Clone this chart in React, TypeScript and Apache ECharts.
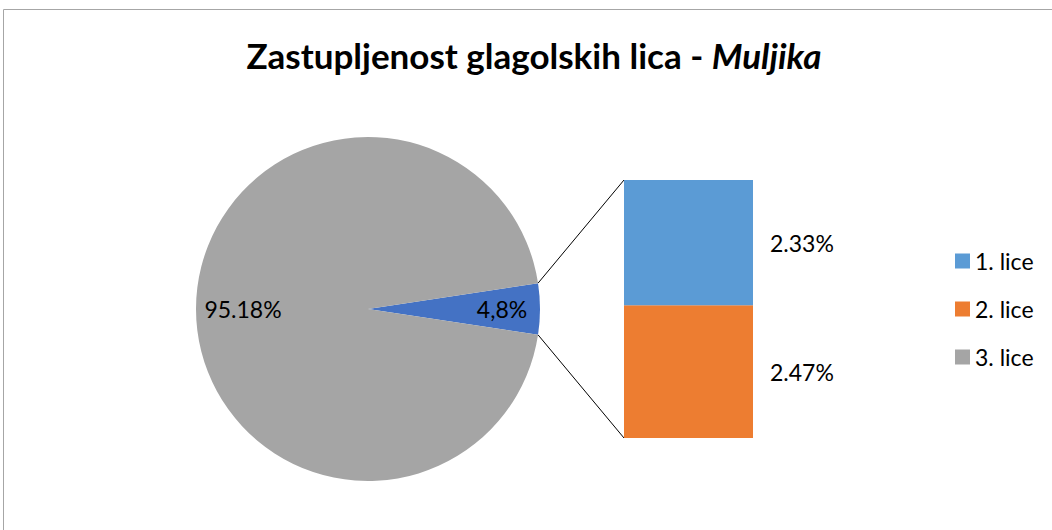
import React, { useEffect, useRef } from "react";
import * as echarts from "echarts";

const TITLE_MAIN = "Zastupljenost glagolskih lica - ";
const TITLE_ITALIC = "Muljika";
const legendNames = ["1. lice", "2. lice", "3. lice"];
const pieNames = ["1. + 2. lice", "3. lice"];
const pieValues = [4.8, 95.18];
const pieLabels = ["4,8%", "95.18%"];
const barNames = ["1. lice", "2. lice"];
const barValues = [2.33, 2.47];
const barLabels = ["2.33%", "2.47%"];

const FONT = "Lato, 'Open Sans', sans-serif";
const CX = 368;
const CY = 309;
const R = 172;
const BAR_L = 624;
const BAR_T = 180;
const BAR_W = 129;
const BAR_H = 258;
const LABEL_SIZE = 23;

export default function App() {
  const ref = useRef<HTMLDivElement>(null);
  useEffect(() => {
    if (!ref.current) return;
    const chart = echarts.init(ref.current, undefined, { renderer: "svg" });
    const total = pieValues[0] + pieValues[1];
    const half = (pieValues[0] / total) * 180;
    const rad = (half * Math.PI) / 180;
    const pTop = [CX + R * Math.cos(rad), CY - R * Math.sin(rad)];
    const pBot = [CX + R * Math.cos(rad), CY + R * Math.sin(rad)];
    const barSum = barValues[0] + barValues[1];
    const labelPads = [[0, 0, 0, 6], [0, 0, 0, 12]];

    const pieData = pieNames.map((n, i) => ({
      name: n,
      value: pieValues[i],
      itemStyle: { color: i === 0 ? "#4472C4" : "#A5A5A5" },
    }));
    const labelData = pieNames.map((n, i) => ({
      name: n,
      value: pieValues[i],
      label: { formatter: pieLabels[i], padding: labelPads[i] },
    }));
    const barColors = ["#5B9BD5", "#ED7D31"];
    const barSeries = [1, 0].map((i) => ({
      type: "bar",
      name: barNames[i],
      stack: "s",
      data: [barValues[i]],
      barWidth: "100%",
      itemStyle: { color: barColors[i] },
      label: {
        show: true,
        position: "right",
        distance: 17,
        formatter: barLabels[i],
        fontSize: LABEL_SIZE,
        fontFamily: FONT,
        color: "#000",
      },
      silent: true,
    }));

    chart.setOption({
      animation: false,
      textStyle: { fontFamily: FONT },
      title: {
        text: TITLE_MAIN + "{i|" + TITLE_ITALIC + "}",
        left: 529,
        textAlign: "center",
        top: 32,
        textStyle: {
          fontFamily: FONT,
          fontSize: 35,
          fontWeight: "bold",
          color: "#000",
          rich: {
            i: {
              fontFamily: FONT,
              fontSize: 35,
              fontWeight: "bold",
              fontStyle: "italic",
              color: "#000",
            },
          },
        },
      },
      legend: {
        data: legendNames,
        orient: "vertical",
        left: 955,
        top: 249.5,
        itemGap: 25,
        itemWidth: 15,
        itemHeight: 15,
        icon: "rect",
        padding: 0,
        selectedMode: false,
        textStyle: { fontSize: LABEL_SIZE, fontFamily: FONT, color: "#000" },
      },
      grid: { left: BAR_L, top: BAR_T, width: BAR_W, height: BAR_H },
      xAxis: { type: "category", data: ["bar"], show: false },
      yAxis: { type: "value", min: 0, max: barSum, show: false },
      graphic: [
        {
          type: "rect",
          shape: { x: 3.5, y: 9.5, width: 1200, height: 700 },
          style: { fill: "none", stroke: "#A6A6A6", lineWidth: 1 },
          silent: true,
          z: -10,
        },
        {
          type: "line",
          shape: { x1: pTop[0], y1: pTop[1], x2: BAR_L, y2: BAR_T },
          style: { stroke: "#000", lineWidth: 1 },
          silent: true,
        },
        {
          type: "line",
          shape: { x1: pBot[0], y1: pBot[1], x2: BAR_L, y2: BAR_T + BAR_H },
          style: { stroke: "#000", lineWidth: 1 },
          silent: true,
        },
      ],
      series: [
        {
          type: "pie",
          center: [CX, CY],
          radius: [0, R],
          startAngle: half,
          clockwise: true,
          data: pieData,
          label: { show: false },
          labelLine: { show: false },
          silent: true,
        },
        {
          type: "pie",
          center: [CX, CY],
          radius: [84, R],
          startAngle: half,
          clockwise: true,
          data: labelData,
          itemStyle: { color: "rgba(0,0,0,0)" },
          label: {
            show: true,
            position: "inside",
            fontSize: LABEL_SIZE,
            fontFamily: FONT,
            color: "#000",
          },
          labelLine: { show: false },
          silent: true,
          emphasis: { disabled: true },
        },
        ...barSeries,
      ],
    });
    return () => chart.dispose();
  }, []);
  return (
    <div
      ref={ref}
      style={{ position: "fixed", left: 0, top: 0, width: 1052, height: 530, background: "#fff" }}
    />
  );
}
